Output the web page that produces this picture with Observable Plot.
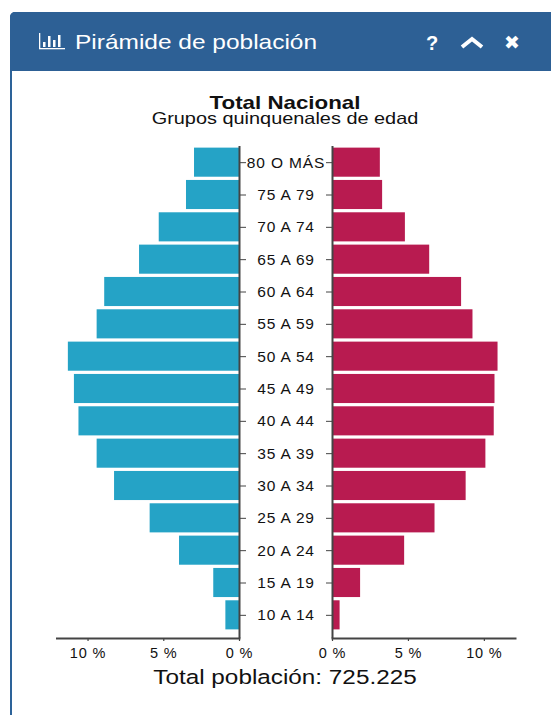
<!DOCTYPE html>
<html lang="es">
<head>
<meta charset="utf-8">
<script src="https://cdn.jsdelivr.net/npm/d3@7"></script>
<script src="https://cdn.jsdelivr.net/npm/@observablehq/plot@0.6"></script>
<style>
  html, body { margin: 0; padding: 0; background: #fff; }
  body { width: 551px; height: 715px; position: relative; overflow: hidden; font-family: "Liberation Sans", Arial, sans-serif; color: #111; }
  #panel { position: absolute; left: 10px; top: 12px; width: 560px; height: 720px; box-sizing: border-box; border: 2px solid #2d6399; border-radius: 5px 0 0 0; }
  #head { position: absolute; left: 10px; top: 12px; width: 560px; height: 59px; background: #2d6095; border-radius: 5px 0 0 0; color: #fff; }
  #head .t { position: absolute; left: 65px; top: 18px; font-size: 21px; line-height: 24px; white-space: nowrap; transform: scaleX(1.165); transform-origin: 0 50%; }
  #head .q { position: absolute; left: 416px; top: 19px; font-size: 20px; line-height: 24px; font-weight: bold; }
  #head .x { position: absolute; left: 494px; top: 18px; font-size: 19px; line-height: 24px; font-family: "DejaVu Sans"; }
  #head svg { position: absolute; }
  .cap { position: absolute; left: 0; width: 570px; text-align: center; white-space: nowrap; transform-origin: 285px 50%; }
  #tit { top: 96px; font-size: 18.5px; line-height: 14px; font-weight: bold; transform: scaleX(1.207); }
  #sub { top: 111px; font-size: 16.5px; line-height: 14px; transform: scaleX(1.206); }
  #tot { top: 665px; font-size: 20.5px; line-height: 24px; transform: scaleX(1.185); }
  .plotbox { position: absolute; top: 0; }
  .plotbox svg { display: block; background: transparent; }
  .plotbox text { letter-spacing: 0.85px; }
</style>
</head>
<body>
<div id="panel"></div>
<div id="head">
  <svg style="left:28px;top:21px" width="28" height="18" viewBox="0 0 28 18">
    <g fill="#fff">
      <rect x="5" y="9" width="2.5" height="5"/><rect x="10" y="3" width="2.5" height="11"/>
      <rect x="15" y="7" width="2.5" height="7"/><rect x="20" y="2" width="2.5" height="12"/>
      <rect x="1" y="0" width="1.3" height="15"/><rect x="1" y="15" width="26" height="1.3"/>
    </g>
  </svg>
  <span class="t">Pirámide de población</span>
  <span class="q">?</span>
  <svg style="left:449px;top:24px" width="26" height="14" viewBox="0 0 26 14">
    <path d="M3 11 L13 3 L23 11" fill="none" stroke="#fff" stroke-width="4"/>
  </svg>
  <span class="x">✖</span>
</div>
<div class="cap" id="tit">Total Nacional</div>
<div class="cap" id="sub">Grupos quinquenales de edad</div>
<div class="plotbox" id="left" style="left:0"></div>
<div class="plotbox" id="right" style="left:239px"></div>
<div class="cap" id="tot">Total población: 725.225</div>

<script>
const ageGroups = ["80 O MÁS","75 A 79","70 A 74","65 A 69","60 A 64","55 A 59","50 A 54","45 A 49","40 A 44","35 A 39","30 A 34","25 A 29","20 A 24","15 A 19","10 A 14"];
const leftValues = [2.97,3.5,5.3,6.6,8.9,9.4,11.3,10.9,10.6,9.4,8.25,5.9,3.96,1.7,0.9];
const rightValues = [3.15,3.3,4.8,6.4,8.5,9.25,10.9,10.7,10.65,10.1,8.8,6.75,4.75,1.85,0.5];
const xTicks = [0,5,10];
const leftColor = "#25a3c6";
const rightColor = "#b81b50";
const axisColor = "#444";

const leftData = ageGroups.map((g,i)=>({g, v:leftValues[i]}));
const rightData = ageGroups.map((g,i)=>({g, v:rightValues[i]}));

const common = {
  height: 715, marginTop: 146, marginBottom: 77,
  style: {background:"transparent", fontFamily:"'Liberation Sans', Arial, sans-serif", color:"#111"},
  y: {domain: ageGroups, label: null, range:[146,631], padding: 0.1, paddingOuter: 0.05, align: 0.5, round: false}
};
const xFmt = d => d + " %";
const xAxis = () => Plot.axisX({ticks:xTicks, tickFormat:xFmt, tickSize:3, tickPadding:6, fontSize:14.5, fill:"#111", stroke:axisColor, strokeWidth:1.2, label:null});
const vLine = () => Plot.ruleX([0], {stroke:axisColor, strokeWidth:2});
const hLine = () => Plot.frame({anchor:"bottom", stroke:axisColor, strokeWidth:2});

const left = Plot.plot({
  ...common,
  width: 312, marginLeft: 56.5, marginRight: 73,
  x: {domain:[0,12.05], reverse:true, label:null},
  marks: [
    Plot.barX(leftData, {y:"g", x:"v", fill:leftColor}),
    xAxis(),
    Plot.axisY({anchor:"right", tickFormat:null, tickSize:6, stroke:axisColor, strokeWidth:1, label:null}),
    vLine(), hLine()
  ]
});
const right = Plot.plot({
  ...common,
  width: 312, marginLeft: 93, marginRight: 36,
  x: {domain:[0,12.05], label:null},
  marks: [
    Plot.barX(rightData, {y:"g", x:"v", fill:rightColor}),
    xAxis(),
    Plot.axisY({anchor:"left", tickFormat:null, tickSize:6, stroke:axisColor, strokeWidth:1, label:null}),
    Plot.text(ageGroups, {y:d=>d, frameAnchor:"left", dx:-46.5, text:d=>d, textAnchor:"middle", fontSize:15.5, fill:"#111"}),
    vLine(), hLine()
  ]
});
document.getElementById("left").append(left);
document.getElementById("right").append(right);
</script>
</body>
</html>
